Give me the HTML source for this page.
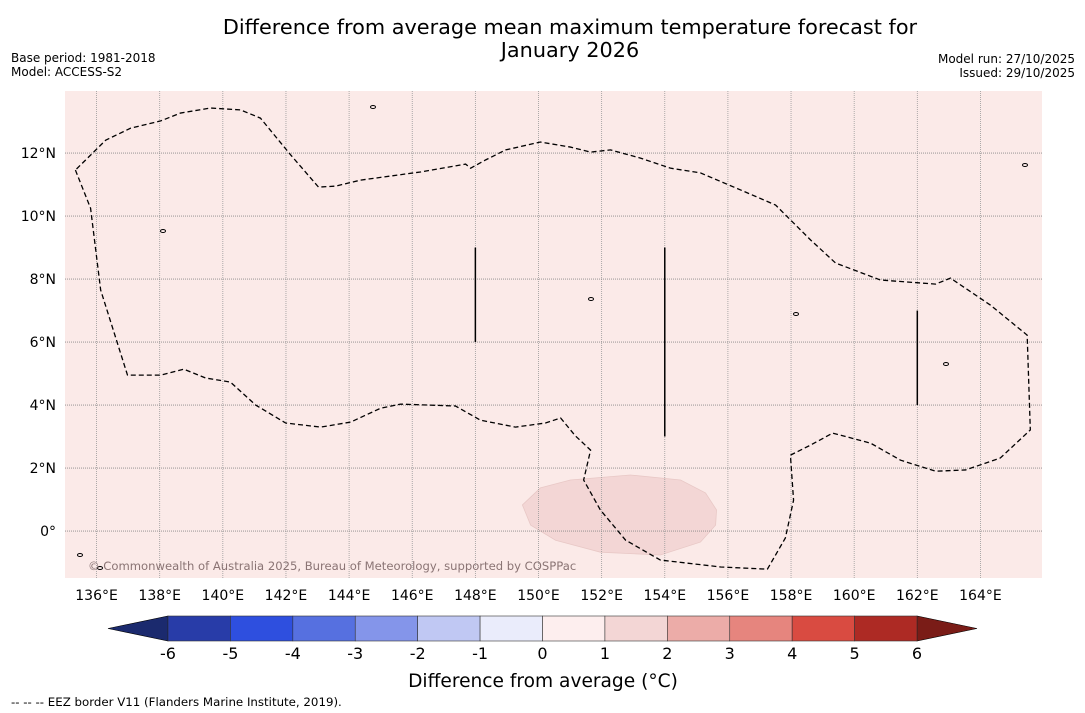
<!DOCTYPE html>
<html><head><meta charset="utf-8"><style>
body{margin:0;background:#fff;width:1085px;height:713px;overflow:hidden;font-family:"DejaVu Sans","Liberation Sans",sans-serif}
svg{position:absolute;left:0;top:0}
</style></head><body>
<svg id="c" width="1085" height="713"></svg>
<script>
const lonTicks=[136,138,140,142,144,146,148,150,152,154,156,158,160,162,164];
const latTicks=[0,2,4,6,8,10,12];
const cbLevels=[-6,-5,-4,-3,-2,-1,0,1,2,3,4,5,6];
const cbColors=["#283ca8","#2e4fdf","#5670e0","#8495ea","#c0c8f3","#eaecfb","#fdeeee","#f3d6d5","#ecaca8","#e6857e","#d94b41","#ad2a24"];
const eezLon=[135.33,135.81,136.13,136.98,138.03,138.76,139.45,140.24,141.04,141.99,143.10,144.05,145.0,145.63,147.37,148.16,149.27,150.22,150.70,151.17,151.65,151.43,151.96,152.76,153.86,155.77,157.25,157.82,158.08,157.98,158.62,159.32,160.52,161.47,162.58,163.53,164.63,165.58,165.48,164.32,163.05,162.58,160.83,159.41,158.62,157.51,156.40,155.13,154.18,153.23,152.28,151.65,151.01,150.06,148.96,148.32,147.85,147.69,146.26,144.36,143.57,143.03,142.15,141.19,140.56,139.61,138.66,138.03,137.08,136.29,135.33];
const eezLat=[11.46,10.25,7.65,4.95,4.95,5.14,4.86,4.73,4.0,3.43,3.30,3.46,3.9,4.03,3.97,3.52,3.30,3.43,3.59,3.02,2.57,1.62,0.67,-0.29,-0.92,-1.14,-1.21,-0.22,0.98,2.41,2.73,3.11,2.79,2.25,1.90,1.94,2.32,3.21,6.22,7.17,8.03,7.84,7.97,8.51,9.24,10.35,10.83,11.37,11.52,11.84,12.10,12.03,12.19,12.35,12.10,11.78,11.52,11.65,11.40,11.14,10.95,10.92,11.94,13.11,13.37,13.43,13.27,13.02,12.79,12.41,11.46];
const anomLon=[149.49,150.06,151.01,152.91,154.50,155.29,155.64,155.61,155.13,153.86,151.96,150.54,149.75];
const anomLat=[0.83,1.37,1.62,1.78,1.62,1.21,0.67,0.19,-0.35,-0.76,-0.67,-0.29,0.19];
const segLon=[148,154,162];
const segLat0=[6,3,4];
const segLat1=[9,9,7];

const X0=65,X1=1042,Y0=91,Y1=578;
const lonMin=135.0,lonMax=165.95,latMin=-1.49,latMax=13.97;
const xs=l=>X0+(l-lonMin)/(lonMax-lonMin)*(X1-X0);
const ys=l=>Y1-(l-latMin)/(latMax-latMin)*(Y1-Y0);
const NS="http://www.w3.org/2000/svg";
const svg=document.getElementById('c');
function mk(t,a,p){const e=document.createElementNS(NS,t);for(const k in a)e.setAttribute(k,a[k]);(p||svg).appendChild(e);return e;}
function txt(s,a){const e=mk('text',a);e.textContent=s;return e;}

let bg=mk('rect',{x:X0,y:Y0,width:X1-X0,height:Y1-Y0,fill:'#fbeae8'});


let blob=mk('polygon',{points:anomLon.map((l,i)=>xs(l)+','+ys(anomLat[i])).join(' '),fill:'#f3d6d5',stroke:'#e8c8c6','stroke-width':0.8});


lonTicks.forEach(l=>{
  let g=mk('line',{x1:xs(l),x2:xs(l),y1:Y0,y2:Y1,stroke:'#999','stroke-width':0.8,'stroke-dasharray':'1,1'});
  
  
  let t=txt(l+'°E',{x:xs(l),y:600,'text-anchor':'middle','font-size':14,fill:'#000'});
  
  
});
latTicks.forEach(l=>{
  let g=mk('line',{x1:X0,x2:X1,y1:ys(l),y2:ys(l),stroke:'#888','stroke-width':0.8,'stroke-dasharray':'1,1'});
  
  
  let t=txt(l===0?'0°':l+'°N',{x:56,y:ys(l)+5,'text-anchor':'end','font-size':14,fill:'#000'});
  
  
});
let eez=mk('polyline',{points:eezLon.map((l,i)=>xs(l)+','+ys(eezLat[i])).join(' '),fill:'none',stroke:'#000','stroke-width':1.3,'stroke-dasharray':'5,3'});


segLon.forEach((l,i)=>{
  let s=mk('line',{x1:xs(l),x2:xs(l),y1:ys(segLat0[i]),y2:ys(segLat1[i]),stroke:'#000','stroke-width':1.5});
  
  
});
[[373,107],[163,231],[591,299],[796,314],[946,364],[80,555],[100,568],[1025,165]].forEach(p=>{
  let c=mk('ellipse',{cx:p[0],cy:p[1],rx:2.5,ry:1.5,fill:'none',stroke:'#000','stroke-width':1});
  
  
});
let cp=txt('© Commonwealth of Australia 2025, Bureau of Meteorology, supported by COSPPac',{x:88,y:570,'font-size':11.6,fill:'#8a7474'});



let t1=txt('Difference from average mean maximum temperature forecast for',{x:570,y:34,'text-anchor':'middle','font-size':20.8});


let t2=txt('January 2026',{x:570,y:57,'text-anchor':'middle','font-size':20.8});


[['Base period: 1981-2018',11,62,'start','base-period'],['Model: ACCESS-S2',11,76,'start','model-name'],['Model run: 27/10/2025',1075,63,'end','model-run'],['Issued: 29/10/2025',1075,77,'end','issued-date']].forEach(a=>{
  let t=txt(a[0],{x:a[1],y:a[2],'text-anchor':a[3],'font-size':12});
  
  
});

const CB0=168,CB1=917,CBY=616,CBH=25;
const cbx=v=>CB0+(v-cbLevels[0])/(cbLevels[cbLevels.length-1]-cbLevels[0])*(CB1-CB0);
let lt=mk('polygon',{points:`108,${CBY+CBH/2} ${CB0},${CBY} ${CB0},${CBY+CBH}`,fill:'#1b2a6e',stroke:'#000','stroke-width':0.6});


let rt=mk('polygon',{points:`977,${CBY+CBH/2} ${CB1},${CBY} ${CB1},${CBY+CBH}`,fill:'#7a1c17',stroke:'#000','stroke-width':0.6});


cbColors.forEach((c,i)=>{
  let r=mk('rect',{x:cbx(cbLevels[i]),y:CBY,width:cbx(cbLevels[i+1])-cbx(cbLevels[i]),height:CBH,fill:c,stroke:'#333','stroke-width':0.6});
  
  
});
cbLevels.forEach(v=>{
  let t=txt(String(v),{x:cbx(v),y:659,'text-anchor':'middle','font-size':16});
  
  
});
let cl=txt('Difference from average (°C)',{x:543,y:687,'text-anchor':'middle','font-size':18.6});


let ft=txt('--  --  -- EEZ border V11 (Flanders Marine Institute, 2019).',{x:11,y:706,'font-size':11.8});


</script>
</body></html>
